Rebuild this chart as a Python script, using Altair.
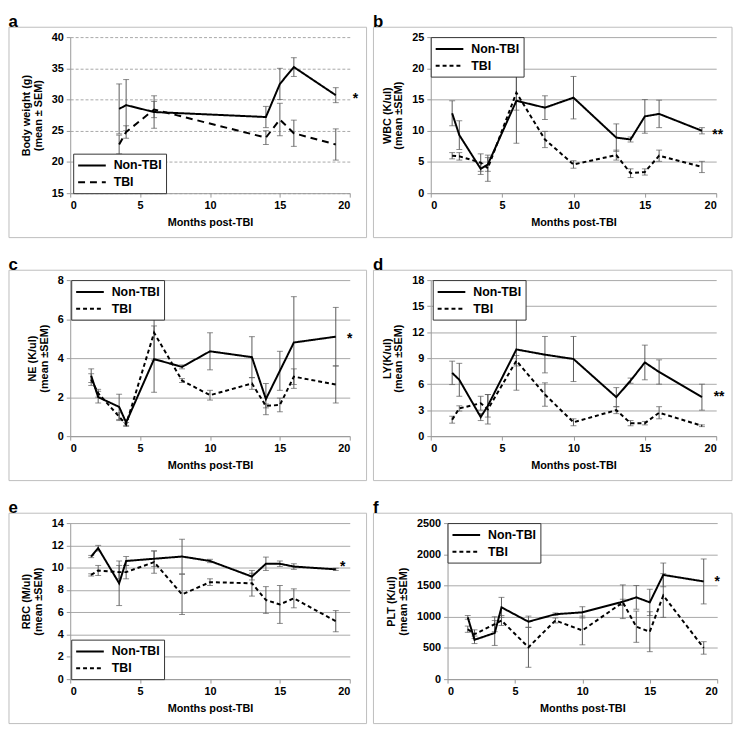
import altair as alt
import pandas as pd

FONT = "Liberation Sans"
GROUPS = ["Non-TBI", "TBI"]

# ---- panel a: body weight ----
x_a = [3.5, 4, 6, 14, 15, 16, 19]
non_a = [28.5, 29.1, 28.0, 27.2, 32.5, 35.2, 30.7]
non_a_sem = [4.0, 4.1, 2.6, 1.7, 2.5, 1.5, 1.2]
tbi_a = [22.8, 24.8, 28.4, 23.9, 26.8, 24.6, 22.8]
tbi_a_sem = [1.5, 1.0, 1.3, 1.1, 2.6, 2.1, 2.5]

# ---- panel b: WBC ----
x_b = [1.5, 2, 3.5, 4, 6, 8, 10, 13, 14, 15, 16, 19]
non_b = [12.8, 9.3, 3.9, 4.6, 14.8, 13.7, 15.3, 8.9, 8.6, 12.3, 12.7, 10.0]
non_b_sem = [2.0, 2.3, 0.9, 1.1, 6.8, 1.9, 3.4, 2.2, 0.4, 2.7, 2.2, 0.5]
tbi_b = [6.0, 5.9, 4.9, 4.0, 16.1, 8.6, 4.6, 6.1, 3.2, 3.4, 6.0, 4.2]
tbi_b_sem = [0.5, 0.6, 1.4, 2.1, 2.8, 1.3, 0.6, 0.8, 0.7, 0.5, 0.9, 0.9]

# ---- panel c: NE ----
x_c = [1.5, 2, 3.5, 4, 6, 8, 10, 13, 14, 15, 16, 19]
non_c = [3.1, 2.0, 1.5, 0.7, 3.95, 3.55, 4.35, 4.05, 1.9, 3.35, 4.8, 5.1]
non_c_sem = [0.35, 0.3, 0.65, 0.15, 1.7, 0.1, 0.95, 1.05, 0.8, 1.0, 2.35, 1.5]
tbi_c = [2.9, 2.2, 1.0, 0.6, 5.3, 2.85, 2.1, 2.7, 1.55, 1.6, 3.05, 2.65]
tbi_c_sem = [0.3, 0.2, 0.2, 0.1, 1.4, 0.1, 0.25, 0.3, 0.1, 0.35, 0.4, 0.95]

# ---- panel d: LY ----
x_d = [1.5, 2, 3.5, 4, 6, 8, 10, 13, 14, 15, 16, 19]
non_d = [7.3, 6.5, 2.2, 3.5, 10.0, 9.4, 8.9, 4.5, 6.4, 8.5, 7.4, 4.5]
non_d_sem = [1.35, 1.9, 0.4, 1.3, 4.7, 2.1, 2.6, 1.1, 0.3, 2.0, 1.4, 1.5]
tbi_d = [1.9, 3.2, 3.8, 3.1, 8.7, 4.8, 1.6, 3.0, 1.5, 1.5, 2.7, 1.2]
tbi_d_sem = [0.4, 0.3, 0.8, 1.7, 0.6, 1.35, 0.4, 0.4, 0.3, 0.2, 0.7, 0.1]

# ---- panel e: RBC ----
x_e = [1.5, 2, 3.5, 4, 6, 8, 10, 13, 14, 15, 16, 19]
non_e = [11.0, 11.75, 8.6, 10.6, 10.8, 11.0, 10.6, 9.2, 10.35, 10.35, 10.1, 9.85]
non_e_sem = [0.1, 0.25, 2.0, 0.4, 0.7, 1.55, 0.15, 0.3, 0.6, 0.25, 0.25, 0.1]
tbi_e = [9.35, 9.75, 9.6, 9.6, 10.5, 7.6, 8.7, 8.6, 7.1, 6.7, 7.25, 5.2]
tbi_e_sem = [0.1, 0.45, 0.6, 0.6, 1.0, 1.8, 0.3, 1.15, 1.2, 1.7, 0.85, 0.95]

# ---- panel f: PLT ----
x_f = [1.5, 2, 3.5, 4, 6, 8, 10, 13, 14, 15, 16, 19]
non_f = [990, 630, 740, 1150, 920, 1040, 1070, 1240, 1310, 1230, 1670, 1565]
non_f_sem = [30, 60, 200, 160, 90, 20, 90, 270, 190, 210, 190, 360]
tbi_f = [800, 720, 880, 940, 510, 940, 780, 1230, 840, 760, 1340, 500]
tbi_f_sem = [50, 70, 120, 80, 320, 40, 230, 50, 250, 320, 350, 100]

# ---- labels ----
x_ticks = [0, 5, 10, 15, 20]
x_title = "Months post-TBI"


def panel(letter, xs, non, non_sem, tbi, tbi_sem, ydom, yvals, ytitle,
          star, star_x, star_y, w, h, lpad, rpad, legend_x, legend_y,
          dash, grid_dash=None):
    rows = []
    for g, m, s in (("Non-TBI", non, non_sem), ("TBI", tbi, tbi_sem)):
        for xv, mv, sv in zip(xs, m, s):
            rows.append({"month": xv, "group": g, "mean": mv,
                         "lo": mv - sv, "hi": mv + sv})
    df = pd.DataFrame(rows)
    base = alt.Chart(df)

    xscale = alt.Scale(domain=[0, 20], nice=False, zero=False)
    yscale = alt.Scale(domain=ydom, nice=False, zero=False)
    xaxis = alt.Axis(values=x_ticks, title=x_title, grid=False, format="d")
    yaxis_kw = dict(values=yvals, title=ytitle, grid=True, gridColor="#a8a8a8",
                    titleLineHeight=12, titlePadding=8, format="d")
    if grid_dash:
        yaxis_kw["gridDash"] = grid_dash
    yaxis = alt.Axis(**yaxis_kw)

    frame = alt.Chart(pd.DataFrame({"k": [0]})).mark_rect(
        fillOpacity=0, stroke="#bdbdbd", strokeWidth=1
    ).encode(x=alt.value(-lpad), x2=alt.value(w + rpad),
             y=alt.value(-10), y2=alt.value(h + 45))

    rule = base.mark_rule(color="#5a5a5a", strokeWidth=1).encode(
        x=alt.X("month:Q", scale=xscale, axis=xaxis),
        y=alt.Y("lo:Q", scale=yscale, axis=yaxis),
        y2="hi:Q")
    tlo = base.mark_tick(color="#5a5a5a", orient="horizontal", size=6, thickness=1).encode(
        x=alt.X("month:Q", scale=xscale, axis=xaxis),
        y=alt.Y("lo:Q", scale=yscale, axis=yaxis))
    thi = base.mark_tick(color="#5a5a5a", orient="horizontal", size=6, thickness=1).encode(
        x=alt.X("month:Q", scale=xscale, axis=xaxis),
        y=alt.Y("hi:Q", scale=yscale, axis=yaxis))
    line = base.mark_line(color="black", strokeWidth=2).encode(
        x=alt.X("month:Q", scale=xscale, axis=xaxis),
        y=alt.Y("mean:Q", scale=yscale, axis=yaxis),
        strokeDash=alt.StrokeDash(
            "group:N",
            scale=alt.Scale(domain=GROUPS, range=[[1, 0], dash]),
            legend=alt.Legend(
                title=None, orient="none", legendX=legend_x, legendY=legend_y,
                fillColor="white", strokeColor="#333", padding=4,
                labelFont=FONT, labelFontSize=12.5, labelFontWeight="bold",
                labelColor="black", symbolType="M-2,0H2", symbolSize=196,
                symbolStrokeWidth=2, symbolStrokeColor="black",
                labelOffset=14, rowPadding=2, symbolOffset=7,
            ),
        ),
    )
    sdf = pd.DataFrame({"month": [star_x], "mean": [star_y], "t": [star]})
    stxt = alt.Chart(sdf).mark_text(
        font=FONT, fontWeight="bold", fontSize=14, align="center",
        baseline="middle", dy=4, color="black"
    ).encode(x=alt.X("month:Q", scale=xscale, axis=xaxis),
             y=alt.Y("mean:Q", scale=yscale, axis=yaxis),
             text="t:N")

    return alt.layer(frame, rule, tlo, thi, line, stxt).properties(
        width=w, height=h,
        title=alt.TitleParams(letter, anchor="start", fontSize=17,
                              fontWeight="bold", font=FONT, offset=-4,
                              frame="bounds", color="black"),
    )


H = 158
pa = panel("a", x_a, non_a, non_a_sem, tbi_a, tbi_a_sem, [15, 40], [15, 20, 25, 30, 35, 40],
           ["Body weight (g)", "(mean ± SEM)"], "*", 20.4, 30.7,
           283, H, 62, 17, 3, H - 40, [7, 5], grid_dash=[3, 2])
pb = panel("b", x_b, non_b, non_b_sem, tbi_b, tbi_b_sem, [0, 25], [0, 5, 10, 15, 20, 25],
           ["WBC (K/ul)", "(mean ±SEM)"], "**", 20.1, 10.0,
           289, H, 58, 16, 0, 0, [4, 3])
pc = panel("c", x_c, non_c, non_c_sem, tbi_c, tbi_c_sem, [0, 8], [0, 2, 4, 6, 8],
           ["NE (K/ul)", "(mean ±SEM)"], "*", 20.0, 5.2,
           283, H, 62, 17, 1, 0, [4, 3])
pd_ = panel("d", x_d, non_d, non_d_sem, tbi_d, tbi_d_sem, [0, 18], [0, 3, 6, 9, 12, 15, 18],
            ["LY(K/ul)", "(mean ±SEM)"], "**", 20.2, 5.0,
            289, H, 58, 16, 2, 0, [4, 3])
pe = panel("e", x_e, non_e, non_e_sem, tbi_e, tbi_e_sem, [0, 14], [0, 2, 4, 6, 8, 10, 12, 14],
           ["RBC (M/ul)", "(mean ±SEM)"], "*", 19.5, 10.4,
           283, H, 62, 17, 1, H - 40, [4, 3])
pf = panel("f", x_f, non_f, non_f_sem, tbi_f, tbi_f_sem, [0, 2500], [0, 500, 1000, 1500, 2000, 2500],
           ["PLT (K/ul)", "(mean ±SEM)"], "*", 20.0, 1620,
           273, H, 75, 15, 0, 0, [4, 3])


def row(l, r):
    return alt.hconcat(l, r, spacing=5).resolve_scale(
        strokeDash="independent").resolve_legend(strokeDash="independent")


chart = alt.vconcat(row(pa, pb), row(pc, pd_), row(pe, pf), spacing=17).resolve_scale(
    strokeDash="independent").resolve_legend(strokeDash="independent").properties(
    padding=0, background="white"
).configure_view(stroke=None).configure_axis(
    domainColor="#999", tickColor="#999", tickSize=4,
    labelFont=FONT, labelFontWeight="bold", labelFontSize=11, labelColor="black",
    titleFont=FONT, titleFontWeight="bold", titleFontSize=11, titleColor="black",
    labelPadding=3,
).configure_axisX(titlePadding=6)

chart.save("out.html", embed_options={"renderer": "svg", "actions": False})
